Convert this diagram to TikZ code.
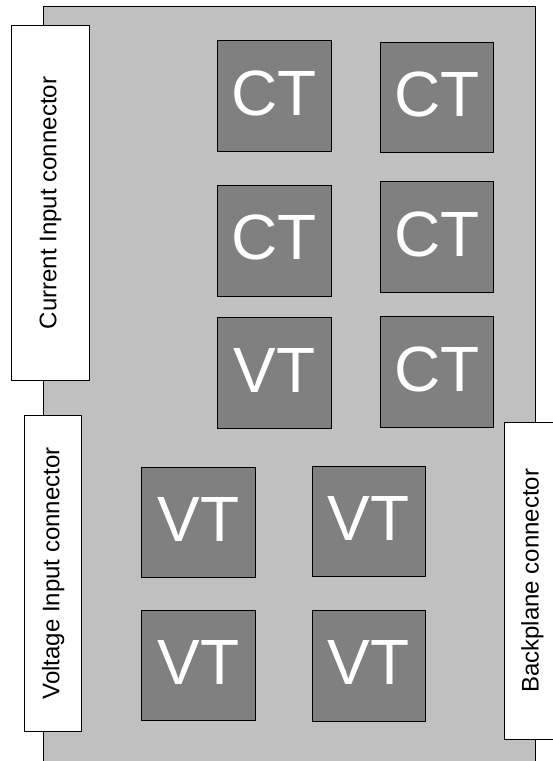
\documentclass[tikz,border=0pt]{standalone}
\usepackage{fontspec}
\setmainfont{Liberation Sans}
\definecolor{boardgray}{HTML}{C0C0C0}
\definecolor{partgray}{HTML}{808080}
\begin{document}
\begin{tikzpicture}[x=1pt,y=-1pt,
  board/.style={draw=black,line width=0.8pt,fill=boardgray,inner sep=0pt,outer sep=0pt},
  conn/.style={draw=black,line width=0.8pt,fill=white,inner sep=0pt,outer sep=0pt},
  conntext/.style={rotate=90,font=\fontsize{24}{24}\selectfont,inner sep=0pt},
  xfmr/.style={draw=black,line width=0.8pt,fill=partgray,text=white,
    minimum width=113.5pt,minimum height=110.5pt,inner sep=0pt,outer sep=0pt,
    text depth=6pt,font=\fontsize{64}{64}\selectfont}]
\useasboundingbox (0,0) rectangle (552,761);
\node[board,minimum width=491.7pt,minimum height=755pt] (pcb) at (289.15,384.2) {};
\node[conn,minimum width=77.6pt,minimum height=355.4pt] (cur) at (50.5,203) {};
\node[conntext] (curtxt) at (cur.center) {Current Input connector};
\node[conn,minimum width=57pt,minimum height=316.7pt] (volt) at (53.2,573.35) {};
\node[conntext] (volttxt) at (volt.center) {Voltage Input connector};
\node[conn,minimum width=48.3pt,minimum height=317pt] (back) at (528.85,580.8) {};
\node[conntext] (backtxt) at (532.5,580.8) {Backplane connector};
\node[xfmr] (ct1) at (274.35,95.85) {CT};
\node[xfmr] (ct2) at (437,97.15) {CT};
\node[xfmr] (ct3) at (274.35,240.65) {CT};
\node[xfmr] (ct4) at (437,237) {CT};
\node[xfmr] (vt1) at (274.35,373) {VT};
\node[xfmr] (ct5) at (437,371.65) {CT};
\node[xfmr] (vt2) at (198.5,522.3) {VT};
\node[xfmr] (vt3) at (368.85,521.5) {VT};
\node[xfmr] (vt4) at (198.5,665.35) {VT};
\node[xfmr] (vt5) at (368.85,665.8) {VT};
\end{tikzpicture}
\end{document}
